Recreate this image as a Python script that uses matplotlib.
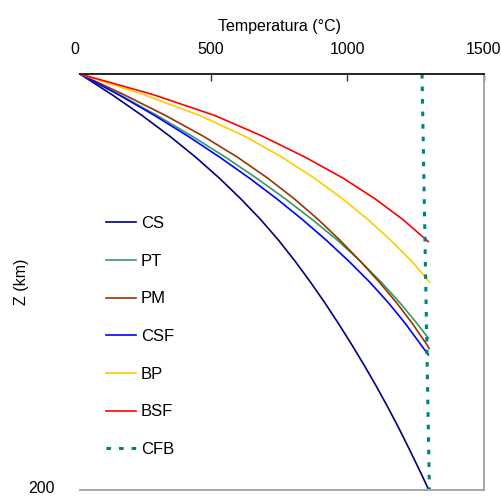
import matplotlib
matplotlib.use("Agg")
import matplotlib.pyplot as plt
from matplotlib.transforms import ScaledTranslation

plt.rcParams['font.family'] = ['Liberation Sans', 'DejaVu Sans']

# depths (km) and temperatures (°C) for each geotherm
z_cs = [0, 10, 20, 30, 40, 50, 60, 70, 80, 90, 100, 110, 120, 130, 140, 150, 160, 170, 180, 190, 200]
t_cs = [20, 138, 248, 350, 444, 530, 609, 682, 748, 808, 864, 917, 967, 1015, 1061, 1105, 1147, 1187, 1225, 1262, 1298]

z_pt = [0, 10, 20, 30, 40, 50, 60, 70, 80, 90, 100, 110, 120, 127]
t_pt = [20, 166, 303, 432, 553, 666, 772, 871, 964, 1047, 1123, 1192, 1255, 1296]

z_pm = [0, 10, 20, 30, 40, 50, 60, 70, 80, 90, 100, 110, 120, 130, 131.9]
t_pm = [20, 182, 334, 473, 597, 707, 805, 893, 973, 1047, 1116, 1180, 1238, 1290, 1299]

z_csf = [0, 10, 20, 30, 40, 50, 60, 70, 80, 90, 100, 110, 120, 130, 135]
t_csf = [20, 162, 294, 417, 532, 640, 741, 835, 923, 1005, 1081, 1150, 1212, 1268, 1296]

z_bp = [0, 10, 20, 30, 40, 50, 60, 70, 80, 90, 100]
t_bp = [20, 255, 460, 625, 760, 878, 982, 1075, 1159, 1235, 1300]

z_bsf = [0, 10, 20, 30, 40, 50, 60, 70, 80, 80.6]
t_bsf = [20, 290, 515, 690, 845, 983, 1101, 1203, 1291, 1296]

z_cfb = [0, 200]
t_cfb = [1273, 1300]

x_ticks = [0, 500, 1000, 1500]
y_ticks = [200]

fig = plt.figure(figsize=(5.02, 4.96), dpi=100)
W, H = 502, 496
left, right, top, bottom = 74.5, 484, 74, 490
ax = fig.add_axes([left / W, (H - bottom) / H, (right - left) / W, (bottom - top) / H])

lw = 1.2
ax.plot(t_cs, z_cs, color='#000080', lw=lw, label='CS')
ax.plot(t_pt, z_pt, color='#339966', lw=lw, label='PT')
ax.plot(t_pm, z_pm, color='#993300', lw=lw, label='PM')
ax.plot(t_csf, z_csf, color='#0000ff', lw=lw, label='CSF')
ax.plot(t_bp, z_bp, color='#ffcc00', lw=lw, label='BP')
ax.plot(t_bsf, z_bsf, color='#ff0000', lw=lw, label='BSF')
ax.plot(t_cfb, z_cfb, color='#008080', lw=2.2, ls=(0, (1.5, 2.6)), label='CFB')

ax.set_xlim(0, 1500)
ax.set_ylim(200, 0)
ax.xaxis.tick_top()
ax.xaxis.set_label_position('top')
ax.set_xticks(x_ticks)
ax.set_xticklabels([str(v) for v in x_ticks], fontsize=11.5)
ax.tick_params(axis='x', direction='in', length=5, width=1, pad=12, color='#333333')
first = ax.xaxis.get_major_ticks()[0]
first.tick1line.set_visible(False)
first.tick2line.set_visible(False)
ax.set_yticks(y_ticks)
ax.set_yticklabels([str(v) for v in y_ticks], fontsize=11.5)
ax.tick_params(axis='y', length=0, pad=14)
for lab in ax.get_yticklabels():
    lab.set_transform(lab.get_transform() + ScaledTranslation(0, 2 / 72, fig.dpi_scale_trans))
ax.set_xlabel('Temperatura (°C)', fontsize=11.5, labelpad=8)
ax.set_ylabel('Z (km)', fontsize=11.5)
ax.yaxis.set_label_coords(-0.112, 0.5)

ax.spines['left'].set_visible(False)
ax.spines['top'].set_color('#222222')
ax.spines['top'].set_linewidth(1.4)
ax.spines['top'].set_bounds(20, 1500)
ax.spines['bottom'].set_bounds(20, 1500)
for s in ('right', 'bottom'):
    ax.spines[s].set_color('#a6a6a6')
    ax.spines[s].set_linewidth(1.4)

leg = ax.legend(loc='upper left', bbox_to_anchor=(106 / W, 1 - 216 / H),
                bbox_transform=fig.transFigure, frameon=False, fontsize=12,
                borderpad=0, borderaxespad=0, handlelength=1.8,
                handletextpad=0.3, labelspacing=1.36)

fig.savefig('out.png', dpi=100)
